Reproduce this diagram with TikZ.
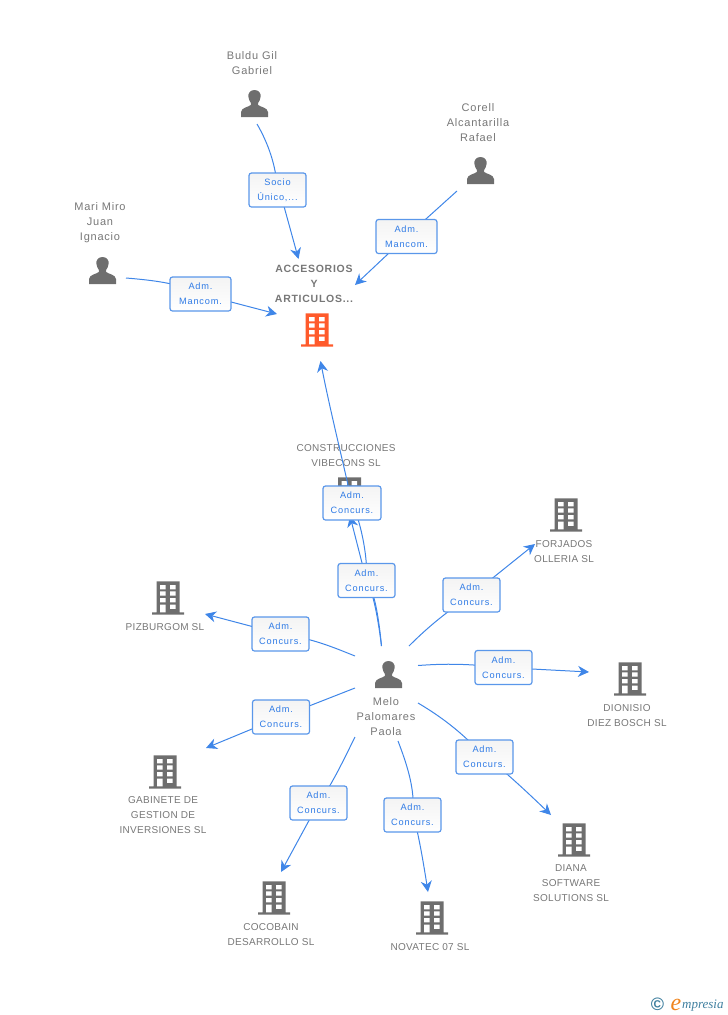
\documentclass[tikz,border=0pt]{standalone}
\usepackage{fontspec}
\setmainfont{Liberation Sans}
\newfontfamily\nametext[LetterSpace=3]{Liberation Sans}
\newfontfamily\personfont[LetterSpace=7]{Liberation Sans}
\newfontfamily\boldname[LetterSpace=7]{Liberation Sans}
\newfontfamily\tagtext[LetterSpace=9]{Liberation Sans}
\newfontfamily\logotext{Liberation Serif}
\usetikzlibrary{arrows.meta}
\definecolor{linkblue}{HTML}{3F86E8}
\definecolor{tagblue}{HTML}{2F7BE6}
\definecolor{edgeblue}{HTML}{5A97EA}
\definecolor{icongrey}{HTML}{6E6E6E}
\definecolor{namegrey}{HTML}{777777}
\definecolor{accent}{HTML}{FF5A2B}
\definecolor{logoblue}{HTML}{3F7F9F}
\definecolor{logoorange}{HTML}{F0851E}
\pgfdeclarelayer{under}
\pgfdeclarelayer{lines}
\pgfsetlayers{under,lines,main}
\tikzset{
  x=1pt,y=-1pt,
  link/.style={draw=linkblue,line width=1pt},
  arrowlink/.style={link,-{Stealth[length=11pt,width=11pt,inset=3.5pt]}},
  tagbox/.style={draw=edgeblue,line width=1.2pt,rounded corners=2.5pt,top color=gray!9,bottom color=white,
    inner sep=0pt,minimum width=#1,minimum height=34pt,align=center,text depth=0pt,font=\fontsize{9.2}{15}\tagtext,text=tagblue},
  tagbox/.default=57pt,
  labeltext/.style={align=center,font=\fontsize{10}{15}\nametext,text=namegrey,inner sep=0pt},
  personlabel/.style={labeltext,font=\fontsize{11}{15}\personfont},
  personicon/.style={minimum size=30pt,inner sep=0pt,path picture={
    \fill[icongrey,shift={(path picture bounding box.center)}]
      (0,-14) .. controls (-4.5,-14) and (-6.5,-10.5) .. (-6.2,-7.5)
      .. controls (-6,-4.5) and (-4.5,-2.5) .. (-3.6,-1) -- (-3.6,1)
      .. controls (-6,3) and (-13,3.5) .. (-13.5,8) -- (-13.5,13) -- (13.5,13) -- (13.5,8)
      .. controls (13,3.5) and (6,3) .. (3.6,1) -- (3.6,-1)
      .. controls (4.5,-2.5) and (6,-4.5) .. (6.2,-7.5)
      .. controls (6.5,-10.5) and (4.5,-14) .. (0,-14) -- cycle;}},
  towericon/.style={minimum size=36pt,inner sep=0pt,path picture={
    \begin{scope}[shift={(path picture bounding box.center)}]
      \fill[#1] (-11.5,-16.7) rectangle (11.5,15) (-16,14.3) rectangle (16,16.7);
      \foreach \yy in {-13,-6.7,0}{\fill[white] (-8,\yy) rectangle (-2.4,\yy+4.3) (2,\yy) rectangle (7.7,\yy+4.3);}
      \fill[white] (-8,6.7) rectangle (-2.4,14.3) (2,6.7) rectangle (7.7,10.9);
    \end{scope}}},
  towericon/.default=icongrey
}
\begin{document}
\begin{tikzpicture}
\useasboundingbox (0,0) rectangle (728,1015);

% people
\node[personicon] (buldu) at (254.5,104) {};
\node[personicon] (corell) at (480.5,171) {};
\node[personicon] (mari) at (102.5,271) {};
\node[personicon] (melo) at (388.5,675) {};
\node[personlabel] (buldun) at (252,63) {Buldu Gil\\Gabriel};
\node[personlabel] (corelln) at (478,122.5) {Corell\\Alcantarilla\\Rafael};
\node[personlabel] (marin) at (100,222.5) {Mari Miro\\Juan\\Ignacio};
\node[personlabel] (melon) at (386,716.5) {Melo\\Palomares\\Paola};

% companies
\node[towericon=accent] (main) at (317,330) {};
\node[labeltext,font=\fontsize{10.5}{15}\boldname\bfseries] (mainn) at (314,283.5) {ACCESORIOS\\Y\\ARTICULOS...};
\node[towericon] (forjados) at (566,515) {};
\node[labeltext] (forjadosn) at (564,551.5) {FORJADOS\\OLLERIA SL};
\node[towericon] (pizburgom) at (168,598) {};
\node[labeltext] (pizburgomn) at (165,627) {PIZBURGOM SL};
\node[towericon] (dionisio) at (630,679) {};
\node[labeltext] (dionision) at (627,715.5) {DIONISIO\\DIEZ BOSCH SL};
\node[towericon] (gabinete) at (165,772) {};
\node[labeltext] (gabineten) at (163,815.5) {GABINETE DE\\GESTION DE\\INVERSIONES SL};
\node[towericon] (diana) at (574,840) {};
\node[labeltext] (dianan) at (571,883.5) {DIANA\\SOFTWARE\\SOLUTIONS SL};
\node[towericon] (cocobain) at (274,898) {};
\node[labeltext] (cocobainn) at (271,934.5) {COCOBAIN\\DESARROLLO SL};
\node[towericon] (novatec) at (432,918) {};
\node[labeltext] (novatecn) at (430,947) {NOVATEC 07 SL};

\begin{pgfonlayer}{under}
\node[towericon] (vibecons) at (349.5,494) {};
\node[labeltext] (vibeconsn) at (346,455.5) {CONSTRUCCIONES\\VIBECONS SL};
\end{pgfonlayer}

% tag boxes
\node[tagbox] (t1) at (277.5,190) {Socio\\Único,...};
\node[tagbox=61pt] (t2) at (406.5,236.5) {Adm.\\Mancom.};
\node[tagbox=61pt] (t3) at (200.5,294) {Adm.\\Mancom.};
\node[tagbox=58pt] (t4) at (352,503) {Adm.\\Concurs.};
\node[tagbox] (t5) at (366.5,580.5) {Adm.\\Concurs.};
\node[tagbox] (t6) at (471.5,595) {Adm.\\Concurs.};
\node[tagbox] (t7) at (503.5,667.5) {Adm.\\Concurs.};
\node[tagbox] (t8) at (280.5,634) {Adm.\\Concurs.};
\node[tagbox] (t9) at (281,717) {Adm.\\Concurs.};
\node[tagbox] (t10) at (484.5,757) {Adm.\\Concurs.};
\node[tagbox] (t11) at (318.5,803) {Adm.\\Concurs.};
\node[tagbox] (t12) at (412.5,815) {Adm.\\Concurs.};

% free ends
\coordinate (s1) at (257,124);   \coordinate (e1) at (298.5,259);
\coordinate (s2) at (457,191);   \coordinate (e2) at (355,285);
\coordinate (s3) at (126,278);   \coordinate (e3) at (277,314);
\coordinate (s4) at (381.5,646); \coordinate (e4) at (320.5,361);
\coordinate (e5) at (350,516);
\coordinate (s6) at (409,646);   \coordinate (e6) at (535,544);
\coordinate (s7) at (418,665.5); \coordinate (e7) at (589,672);
\coordinate (s8) at (355,656);   \coordinate (e8) at (205,614);
\coordinate (s9) at (355,688);   \coordinate (e9) at (206,748);
\coordinate (s10) at (418,703);  \coordinate (e10) at (551,815);
\coordinate (s11) at (355,737);  \coordinate (e11) at (281,872);
\coordinate (s12) at (398,741);  \coordinate (e12) at (428,892);

% connectors, beneath the boxes
\begin{pgfonlayer}{lines}
\draw[link] (s1) .. controls (268,143) and (276,165) .. (t1.center);
\draw[arrowlink] ([xshift=2pt]t1.center) -- (e1);
\draw[link] (s2) -- (t2.center);
\draw[arrowlink] (t2.center) -- (e2);
\draw[link] (s3) .. controls (150,280) and (180,283) .. (t3.center);
\draw[arrowlink] (t3.center) -- (e3);
\draw[link] (s4) .. controls (377,610) and (372,590) .. (t5.center);
\draw[link] (s4) .. controls (378.5,615) and (374,590) .. (t5.center);
\draw[link] (t5.center) .. controls (368,560) and (362,525) .. (t4.center);
\draw[arrowlink] (t5.center) -- (e5);
\draw[arrowlink] (t4.center) .. controls (345,470) and (330,410) .. (e4);
\draw[link] (s6) .. controls (425,630) and (442,615) .. (t6.center);
\draw[arrowlink] (t6.center) -- (e6);
\draw[link] (s7) .. controls (440,664) and (460,663) .. (t7.center);
\draw[arrowlink] (t7.center) -- (e7);
\draw[link] (s8) .. controls (335,648) and (312,638) .. (t8.center);
\draw[arrowlink] (t8.center) -- (e8);
\draw[link] (s9) -- (t9.center);
\draw[arrowlink] (t9.center) -- (e9);
\draw[link] (s10) .. controls (440,716) and (462,732) .. (t10.center);
\draw[arrowlink] (t10.center) .. controls (495,762) and (525,790) .. (e10);
\draw[link] (s11) .. controls (345,757) and (332,785) .. (t11.center);
\draw[arrowlink] (t11.center) -- (e11);
\draw[link] (s12) .. controls (406,762) and (416,790) .. (t12.center);
\draw[arrowlink] (t12.center) .. controls (417,825) and (423,860) .. (e12);
\end{pgfonlayer}

% logo
\node[inner sep=0pt,font=\fontsize{18}{18}\selectfont\bfseries,text=logoblue] (copyr) at (657.5,1004) {©};
\node[inner sep=0pt,anchor=base west,font=\fontsize{24}{24}\logotext\itshape,text=logoorange] (logoe) at (670.5,1010) {e};
\node[inner sep=0pt,anchor=base west,font=\fontsize{13}{13}\logotext\itshape,text=logoblue] (logot) at (682,1008) {mpresia};
\end{tikzpicture}
\end{document}
